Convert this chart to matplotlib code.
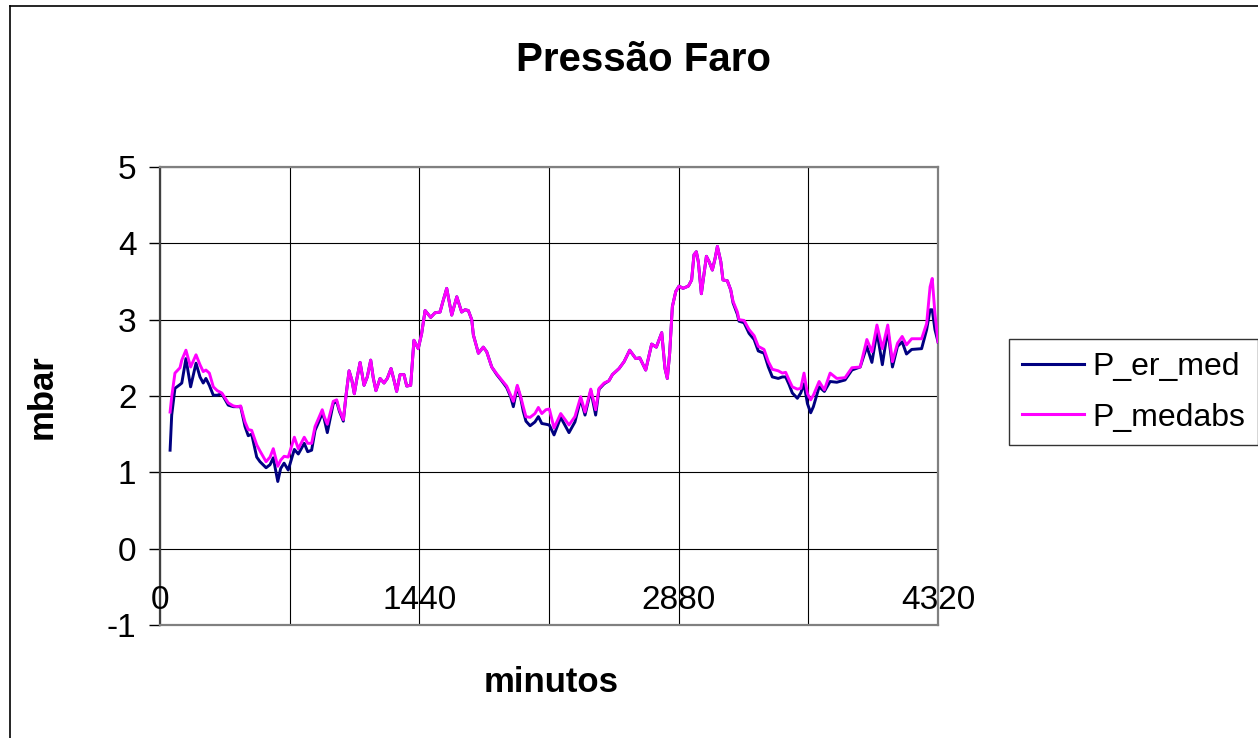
import matplotlib
matplotlib.use("Agg")
import matplotlib.pyplot as plt
from matplotlib.lines import Line2D

minutes = [56, 65, 83, 111, 121, 144, 170, 200, 222, 240, 255, 274, 296, 318, 343, 379, 407, 429, 448, 472,
           490, 509, 537, 555, 589, 611, 629, 654, 670, 689, 712, 746, 768, 801, 820, 842, 861, 885, 901, 912,
           929, 962, 981, 996, 1018, 1033, 1050, 1065, 1079, 1092, 1111, 1133, 1151, 1170, 1184, 1199, 1222, 1244, 1262, 1283,
           1299, 1314, 1333, 1355, 1370, 1392, 1410, 1434, 1453, 1472, 1503, 1527, 1555, 1570, 1592, 1620, 1648, 1675, 1694, 1712,
           1731, 1740, 1768, 1795, 1814, 1842, 1870, 1897, 1925, 1947, 1962, 1984, 2003, 2017, 2032, 2055, 2082, 2101, 2120, 2143,
           2162, 2188, 2225, 2271, 2304, 2336, 2360, 2392, 2419, 2438, 2466, 2493, 2512, 2549, 2577, 2608, 2642, 2664, 2697, 2730,
           2756, 2786, 2804, 2817, 2830, 2845, 2864, 2882, 2904, 2934, 2952, 2965, 2978, 2989, 3006, 3034, 3049, 3067, 3082, 3095,
           3114, 3126, 3150, 3169, 3182, 3206, 3215, 3243, 3271, 3299, 3322, 3354, 3378, 3400, 3433, 3456, 3474, 3493, 3511, 3539,
           3558, 3576, 3595, 3613, 3628, 3660, 3689, 3721, 3758, 3804, 3842, 3888, 3925, 3953, 3981, 4011, 4041, 4067, 4095, 4121,
           4145, 4174, 4229, 4257, 4276, 4288, 4303, 4320]

p_medabs = [1.79, 1.99, 2.30, 2.37, 2.47, 2.60, 2.38, 2.54, 2.41, 2.32, 2.34, 2.30, 2.12, 2.07, 2.04, 1.91, 1.87, 1.86, 1.87, 1.66,
            1.56, 1.55, 1.36, 1.28, 1.14, 1.20, 1.31, 1.08, 1.16, 1.21, 1.20, 1.46, 1.31, 1.46, 1.38, 1.38, 1.60, 1.73, 1.82, 1.73,
            1.63, 1.93, 1.95, 1.82, 1.69, 2.01, 2.33, 2.21, 2.03, 2.21, 2.44, 2.14, 2.25, 2.47, 2.24, 2.07, 2.23, 2.17, 2.23, 2.36,
            2.21, 2.06, 2.28, 2.28, 2.13, 2.14, 2.73, 2.62, 2.82, 3.12, 3.03, 3.09, 3.10, 3.23, 3.41, 3.06, 3.30, 3.10, 3.13, 3.12,
            3.00, 2.80, 2.56, 2.64, 2.58, 2.38, 2.29, 2.21, 2.13, 2.01, 1.93, 2.14, 1.99, 1.86, 1.73, 1.72, 1.77, 1.85, 1.77, 1.82,
            1.83, 1.58, 1.77, 1.62, 1.73, 1.99, 1.79, 2.09, 1.82, 2.10, 2.17, 2.20, 2.28, 2.36, 2.45, 2.60, 2.49, 2.50, 2.34, 2.68,
            2.64, 2.83, 2.36, 2.23, 2.56, 3.17, 3.37, 3.44, 3.41, 3.44, 3.52, 3.85, 3.89, 3.76, 3.34, 3.83, 3.76, 3.65, 3.80, 3.96,
            3.76, 3.52, 3.51, 3.39, 3.24, 3.10, 3.00, 2.99, 2.87, 2.79, 2.65, 2.61, 2.45, 2.35, 2.33, 2.30, 2.31, 2.21, 2.12, 2.09,
            2.10, 2.30, 2.03, 1.95, 2.01, 2.19, 2.08, 2.30, 2.23, 2.24, 2.37, 2.38, 2.74, 2.58, 2.93, 2.62, 2.93, 2.45, 2.69, 2.78,
            2.67, 2.75, 2.75, 2.95, 3.43, 3.54, 3.08, 2.71]

p_er_med = [1.29, 1.75, 2.10, 2.15, 2.17, 2.49, 2.12, 2.43, 2.25, 2.17, 2.23, 2.14, 2.01, 2.01, 2.03, 1.88, 1.86, 1.86, 1.86, 1.60,
            1.48, 1.50, 1.20, 1.14, 1.06, 1.10, 1.19, 0.88, 1.05, 1.12, 1.03, 1.30, 1.24, 1.38, 1.27, 1.29, 1.55, 1.68, 1.78, 1.70,
            1.52, 1.90, 1.93, 1.80, 1.67, 2.01, 2.33, 2.21, 2.03, 2.21, 2.44, 2.14, 2.25, 2.47, 2.24, 2.07, 2.23, 2.17, 2.23, 2.36,
            2.21, 2.06, 2.28, 2.28, 2.13, 2.14, 2.73, 2.62, 2.82, 3.12, 3.03, 3.09, 3.10, 3.23, 3.41, 3.06, 3.30, 3.10, 3.13, 3.12,
            3.00, 2.80, 2.56, 2.64, 2.58, 2.38, 2.28, 2.20, 2.11, 1.99, 1.86, 2.12, 1.97, 1.80, 1.67, 1.61, 1.66, 1.73, 1.64, 1.63,
            1.62, 1.49, 1.72, 1.52, 1.66, 1.96, 1.75, 2.07, 1.75, 2.09, 2.16, 2.20, 2.28, 2.36, 2.45, 2.60, 2.49, 2.50, 2.34, 2.68,
            2.64, 2.83, 2.36, 2.23, 2.56, 3.17, 3.37, 3.44, 3.41, 3.44, 3.52, 3.85, 3.89, 3.76, 3.34, 3.83, 3.76, 3.65, 3.80, 3.96,
            3.76, 3.52, 3.51, 3.39, 3.22, 3.07, 2.98, 2.96, 2.82, 2.74, 2.59, 2.56, 2.38, 2.25, 2.23, 2.25, 2.25, 2.15, 2.04, 1.97,
            2.04, 2.16, 1.90, 1.78, 1.86, 2.12, 2.06, 2.19, 2.18, 2.21, 2.34, 2.38, 2.65, 2.44, 2.84, 2.41, 2.87, 2.38, 2.65, 2.71,
            2.55, 2.61, 2.62, 2.87, 3.13, 3.13, 2.87, 2.71]

x_tick_labels = [0, 1440, 2880, 4320]
y_ticks = [-1, 0, 1, 2, 3, 4, 5]
series_names = ["P_er_med", "P_medabs"]

assert len(minutes) == len(p_medabs) == len(p_er_med)

plt.rcParams['font.family'] = ['Liberation Sans', 'DejaVu Sans']

W, H = 1258, 738
fig = plt.figure(figsize=(W / 100, H / 100), dpi=100)
fig.patch.set_facecolor('white')

# outer chart border (left and top visible)
fig.add_artist(Line2D([10 / W, 10 / W], [0, 1 - 6 / H], transform=fig.transFigure, color='black', lw=1.2))
fig.add_artist(Line2D([10 / W, 1], [1 - 6 / H, 1 - 6 / H], transform=fig.transFigure, color='black', lw=1.2))

ax = fig.add_axes([160 / W, 113 / H, 778 / W, 458 / H])
ax.plot(minutes, p_er_med, color='#000080', lw=2.1, label=series_names[0], zorder=3)
ax.plot(minutes, p_medabs, color='#FF00FF', lw=2.1, label=series_names[1], zorder=4)

ax.set_xlim(0, 4320)
ax.set_ylim(-1, 5)
ax.set_xticks(range(0, 4321, 720))
ax.set_xticklabels([])
ax.tick_params(axis='x', length=0)
ax.set_yticks(y_ticks)
ax.set_yticklabels([str(v) for v in y_ticks])
ax.tick_params(axis='y', length=8, width=1, labelsize=24, pad=9, colors='black')
ax.grid(True, color='black', lw=0.8, zorder=1)
ax.set_axisbelow(True)
for s in ax.spines.values():
    s.set_color('#808080')
    s.set_linewidth(1.6)
ax.spines['left'].set_color('#404040')

for t in x_tick_labels:
    ax.text(t, -0.68, str(t), ha='center', va='center', fontsize=24)

fig.text(643 / W, 1 - 60 / H, 'Pressão Faro', ha='center', va='center', fontsize=29, fontweight='bold')
fig.text(42 / W, 1 - 397 / H, 'mbar', ha='center', va='center', rotation=90, fontsize=25, fontweight='bold')
fig.text(551 / W, 1 - 683 / H, 'minutos', ha='center', va='center', fontsize=25, fontweight='bold')

leg = fig.legend(loc='upper left', bbox_to_anchor=(1009 / W, 1 - 339 / H), frameon=True, fancybox=False,
                 edgecolor='black', fontsize=23, handlelength=1.95, borderpad=0.4, labelspacing=0.65,
                 handletextpad=0.25, borderaxespad=0)
leg.get_frame().set_linewidth(1.0)
for h in leg.get_lines():
    h.set_linewidth(2.2)

fig.savefig('out.png', dpi=100)
